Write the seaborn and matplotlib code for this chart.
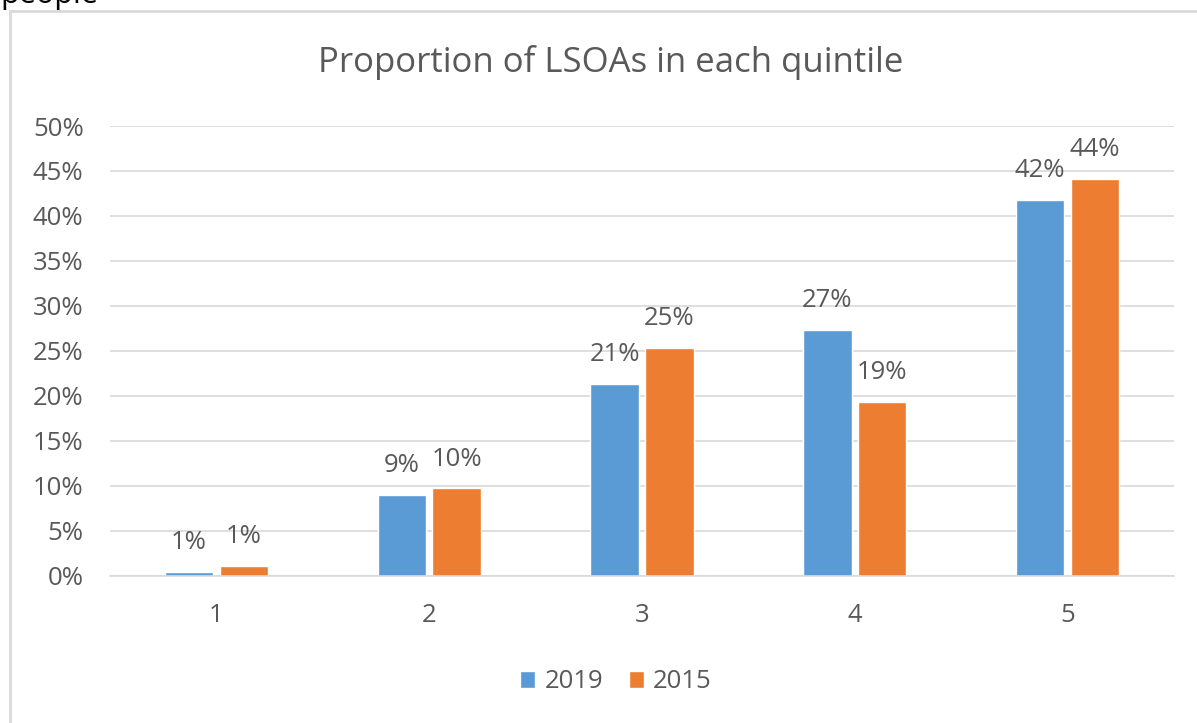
import matplotlib
matplotlib.use("Agg")
import matplotlib.pyplot as plt
import seaborn as sns
import pandas as pd
from matplotlib.patches import Rectangle
from matplotlib.ticker import PercentFormatter

quintiles = ["1", "2", "3", "4", "5"]
series_names = ["2019", "2015"]
values_2019 = [0.4, 9.0, 21.3, 27.3, 41.8]
values_2015 = [1.1, 9.7, 25.3, 19.3, 44.1]
labels_2019 = ["1%", "9%", "21%", "27%", "42%"]
labels_2015 = ["1%", "10%", "25%", "19%", "44%"]
colors = ["#5B9BD5", "#ED7D31"]
title = "Proportion of LSOAs in each quintile"

df = pd.DataFrame({
    "Quintile": quintiles * 2,
    "Year": [series_names[0]] * 5 + [series_names[1]] * 5,
    "Value": values_2019 + values_2015,
})

sns.set_theme(style="white")
plt.rcParams["font.family"] = ["Open Sans", "DejaVu Sans"]
text_color = "#595959"
fs = 18.5

W, H = 1197, 723
fig = plt.figure(figsize=(W / 100, H / 100), dpi=100)
ax = fig.add_axes([110 / W, 1 - 575.5 / H, (1174 - 110) / W, (575.5 - 126) / H])

sns.barplot(data=df, x="Quintile", y="Value", hue="Year", order=quintiles,
            hue_order=series_names, palette=colors, width=0.515, gap=0.12,
            saturation=1, ax=ax, legend=True)

for cont, labs in zip(ax.containers, [labels_2019, labels_2015]):
    ax.bar_label(cont, labels=labs, padding=12, fontsize=fs, color=text_color)

ax.set_ylim(0, 50)
ax.set_yticks(range(0, 51, 5))
ax.yaxis.set_major_formatter(PercentFormatter(decimals=0))
ax.grid(axis="y", color="#d9d9d9", linewidth=1.2)
ax.set_axisbelow(True)
for s in ["top", "right", "left"]:
    ax.spines[s].set_visible(False)
ax.spines["bottom"].set_color("#d9d9d9")
ax.spines["bottom"].set_linewidth(1.2)
ax.tick_params(axis="y", length=0, pad=19, labelsize=fs, labelcolor=text_color)
ax.tick_params(axis="x", length=0, pad=20, labelsize=fs, labelcolor=text_color)
ax.set_xlabel("")
ax.set_ylabel("")

leg = ax.get_legend()
handles, labels = ax.get_legend_handles_labels()
leg.remove()
fig.legend(handles, labels, loc="center", bbox_to_anchor=(616 / W, 1 - 682 / H),
           ncol=2, frameon=False, fontsize=fs, handlelength=0.6, handleheight=0.6,
           handletextpad=0.35, columnspacing=1.0, labelcolor=text_color)

fig.text(610.5 / W, 1 - 63 / H, title, ha="center", va="center", fontsize=25, color=text_color)

# outer chart frame
fig.patches.append(Rectangle((10 / W, -0.05), 1.2, 1 - 11 / H + 0.05, transform=fig.transFigure,
                             fill=False, edgecolor="#d9d9d9", linewidth=2))
fig.text(0.0, 1 - 3 / H, "people", ha="left", va="baseline", fontsize=22, color="black")

fig.savefig("out.png", dpi=100)
